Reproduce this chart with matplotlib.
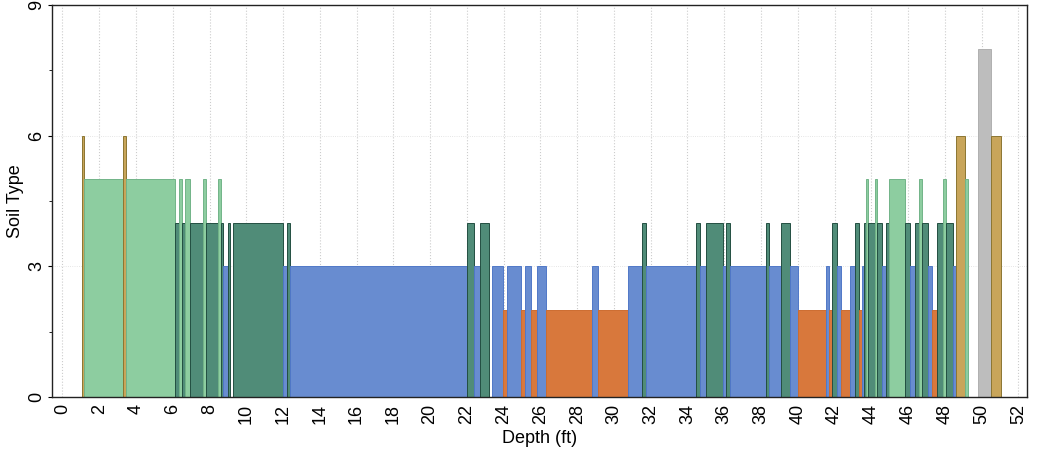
import numpy as np
import matplotlib
matplotlib.use("Agg")
import matplotlib.pyplot as plt

plt.rcParams['font.family'] = ['Liberation Sans', 'DejaVu Sans']

# top of each layer (ft) and soil behaviour type of that layer
layer_top = [0.00, 1.04, 1.18, 3.30, 3.46, 6.10, 6.36, 6.48, 6.66, 6.95,
             7.62, 7.80, 8.44, 8.62, 8.76, 8.98, 9.10, 9.26, 11.98, 12.20,
             12.36, 21.98, 22.37, 22.69, 23.19, 23.37, 23.99, 24.19, 24.97, 25.16,
             25.50, 25.80, 26.32, 28.81, 29.13, 30.75, 31.54, 31.75, 34.49, 34.67,
             34.98, 35.94, 36.12, 36.31, 38.26, 38.44, 39.08, 39.55, 40.00, 41.51,
             41.69, 41.87, 42.15, 42.36, 42.85, 43.11, 43.32, 43.51, 43.62, 43.69,
             43.83, 44.18, 44.30, 44.60, 44.81, 44.94, 45.81, 46.12, 46.35, 46.62,
             46.77, 47.08, 47.32, 47.57, 47.89, 48.04, 48.44, 48.59, 49.08, 49.26,
             49.80, 50.53, 51.07]
end_depth = 52.35
soil_type = [0, 6, 5, 6, 5, 4, 5, 4, 5, 4,
             5, 4, 5, 4, 3, 4, 0, 4, 3, 4,
             3, 4, 3, 4, 0, 3, 2, 3, 2, 3,
             2, 3, 2, 3, 2, 3, 4, 3, 4, 3,
             4, 3, 4, 3, 4, 3, 4, 3, 2, 3,
             2, 4, 3, 2, 3, 4, 2, 3, 4, 5,
             4, 5, 4, 3, 4, 5, 4, 3, 4, 5,
             4, 3, 2, 4, 5, 4, 3, 6, 5, 0,
             8, 6, 0]

fill_colors = {0: '#ffffff', 2: '#d8783c', 3: '#688cd0', 4: '#508c78',
               5: '#8dcda0', 6: '#c8a55a', 8: '#bdbdbd'}
edge_colors = {0: '#333333', 2: '#cd6c30', 3: '#5078c8', 4: '#234f42',
               5: '#72b488', 6: '#8c7632', 8: '#b0b0b0'}

tops = np.array(layer_top)
widths = np.diff(np.append(tops, end_depth))
types = np.array(soil_type)

fig = plt.figure(figsize=(10.37, 4.55), dpi=100)
ax = fig.add_axes([0.0501, 0.1275, 0.9403, 0.8615])

ax.bar(tops, types, width=widths, align='edge',
       color=[fill_colors[t] for t in types],
       edgecolor=[edge_colors[t] for t in types],
       linewidth=0.7, zorder=2)

ax.set_xlim(-0.57, 52.47)
ax.set_ylim(0, 9)
ax.set_xticks(np.arange(0, 53, 2))
ax.set_yticks([0, 3, 6, 9])
ax.set_yticks([1.5, 4.5, 7.5], minor=True)
ax.tick_params(axis='x', labelrotation=90, labelsize=13, length=0, pad=5)
ax.tick_params(axis='y', labelrotation=90, labelsize=13, length=3, pad=2)
ax.tick_params(axis='y', which='minor', length=2)
for lab in ax.get_yticklabels():
    lab.set_va('center')

ax.grid(axis='x', color='#cccccc', linestyle=':', linewidth=0.8, zorder=0)
ax.grid(axis='y', color='#dddddd', linestyle=':', linewidth=0.6, zorder=0)
ax.set_axisbelow(True)

for sp in ax.spines.values():
    sp.set_linewidth(1.0)
    sp.set_color('#222222')

ax.set_xlabel('Depth (ft)', fontsize=13, labelpad=4)
ax.set_ylabel('Soil Type', fontsize=13, labelpad=3)

fig.savefig('out.png', dpi=100)
